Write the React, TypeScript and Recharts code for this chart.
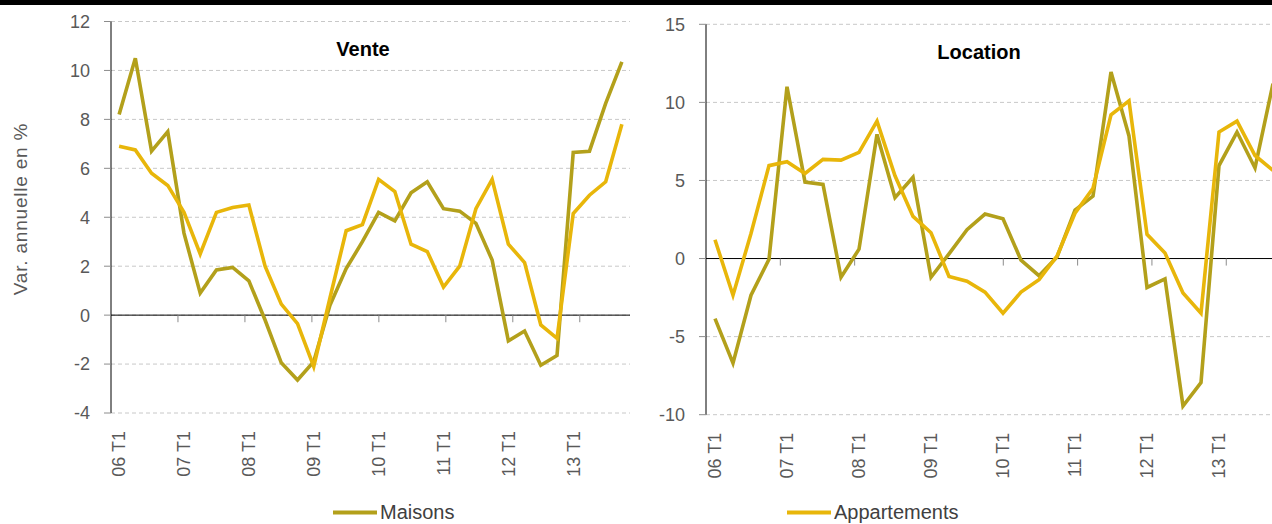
import { LineChart, Line, XAxis, YAxis, CartesianGrid, ReferenceLine } from 'recharts';

const FONT = '"Liberation Sans", Arial, sans-serif';

const years = ['06', '07', '08', '09', '10', '11', '12', '13'];
const quarters = years.flatMap((y) => ['T1', 'T2', 'T3', 'T4'].map((t) => `${y} ${t}`));

// Vente
const venteMaisons = [
  8.2, 10.5, 6.7, 7.5, 3.35, 0.9, 1.85, 1.95, 1.4, -0.2, -1.95, -2.65, -1.9, 0.4, 1.9, 3.0,
  4.2, 3.85, 5.0, 5.45, 4.35, 4.25, 3.75, 2.25, -1.05, -0.65, -2.05, -1.65, 6.65, 6.7, 8.65, 10.35,
];
const venteAppartements = [
  6.9, 6.75, 5.8, 5.3, 4.2, 2.5, 4.2, 4.4, 4.5, 2.0, 0.45, -0.35, -2.1, 0.7, 3.45, 3.7,
  5.55, 5.05, 2.9, 2.6, 1.15, 2.0, 4.35, 5.55, 2.9, 2.15, -0.4, -0.95, 4.15, 4.9, 5.45, 7.8,
];

// Location
const locationMaisons = [
  -3.85, -6.7, -2.35, -0.05, 11.0, 4.9, 4.75, -1.2, 0.6, 7.95, 3.9, 5.2, -1.2, 0.3, 1.85, 2.85,
  2.55, -0.1, -1.1, 0.1, 3.1, 4.0, 11.95, 7.85, -1.85, -1.3, -9.45, -7.95, 5.95, 8.1, 5.8, 11.2,
];
const locationAppartements = [
  1.2, -2.35, 1.6, 5.95, 6.2, 5.45, 6.35, 6.3, 6.8, 8.8, 5.3, 2.7, 1.65, -1.15, -1.45, -2.15,
  -3.5, -2.15, -1.35, 0.15, 2.9, 4.5, 9.2, 10.1, 1.55, 0.35, -2.2, -3.5, 8.1, 8.8, 6.6, 5.65,
];

const venteTicks = [-4, -2, 0, 2, 4, 6, 8, 10, 12];
const locationTicks = [-10, -5, 0, 5, 10, 15];
const yearBoundaries = [4, 8, 12, 16, 20, 24, 28, 32];

const series = [
  { key: 'maisons', name: 'Maisons', color: '#b3a01b' },
  { key: 'appartements', name: 'Appartements', color: '#e8b60a' },
];

const venteData = quarters.map((q, i) => ({ q, maisons: venteMaisons[i], appartements: venteAppartements[i] }));
const locationData = quarters.map((q, i) => ({ q, maisons: locationMaisons[i], appartements: locationAppartements[i] }));

function CategoryTick({ x, y, payload }: any) {
  return (
    <text
      x={x}
      y={y}
      dy="0.35em"
      textAnchor="end"
      transform={`rotate(-90, ${x}, ${y})`}
      fill="#595959"
      fontSize={18}
      fontFamily={FONT}
    >
      {payload.value}
    </text>
  );
}

type PanelProps = {
  data: { q: string; maisons: number; appartements: number }[];
  ticks: number[];
  width: number;
  yAxisWidth: number;
  top: number;
  bottom: number;
  markDepth: number;
};

function Panel({ data, ticks, width, yAxisWidth, top, bottom, markDepth }: PanelProps) {
  return (
    <LineChart
      width={width}
      height={524}
      data={data}
      margin={{ top, right: 10, bottom, left: 0 }}
      style={{ fontFamily: FONT }}
    >
      <CartesianGrid vertical={false} stroke="#c8c8c8" strokeDasharray="4 3" />
      <XAxis
        dataKey="q"
        scale="band"
        interval={3}
        axisLine={false}
        tickLine={false}
        tickSize={0}
        tickMargin={18}
        height={80}
        tick={<CategoryTick />}
      />
      <XAxis xAxisId="n" type="number" domain={[0, 32]} hide />
      <YAxis
        type="number"
        domain={[ticks[0], ticks[ticks.length - 1]]}
        ticks={ticks}
        interval={0}
        width={yAxisWidth}
        axisLine={{ stroke: '#000', strokeWidth: 1 }}
        tickLine={{ stroke: '#8c8c8c' }}
        tickSize={7}
        tickMargin={14}
        tick={{ fill: '#595959', fontSize: 18 }}
      />
      <ReferenceLine y={0} stroke="#000" strokeWidth={1} />
      {yearBoundaries.map((b) => (
        <ReferenceLine
          key={b}
          xAxisId="n"
          segment={[{ x: b, y: 0 }, { x: b, y: -markDepth }]}
          stroke="#8c8c8c"
        />
      ))}
      {series.map((s) => (
        <Line
          key={s.key}
          type="linear"
          dataKey={s.key}
          name={s.name}
          stroke={s.color}
          strokeWidth={3.6}
          dot={false}
          activeDot={false}
          isAnimationActive={false}
        />
      ))}
    </LineChart>
  );
}

export default function App() {
  return (
    <div
      style={{
        position: 'fixed',
        left: 0,
        top: 0,
        width: 1272,
        height: 524,
        overflow: 'hidden',
        background: '#fff',
        fontFamily: FONT,
      }}
    >
      <div style={{ position: 'absolute', left: 0, top: 0 }}>
        <Panel data={venteData} ticks={venteTicks} width={640} yAxisWidth={111} top={21.5} bottom={31} markDepth={0.29} />
      </div>
      <div style={{ position: 'absolute', left: 640, top: 0 }}>
        <Panel data={locationData} ticks={locationTicks} width={652} yAxisWidth={66} top={24.3} bottom={29.3} markDepth={0.45} />
      </div>
      <div style={{ position: 'absolute', left: 0, top: 0, width: 1272, height: 5, background: '#000' }} />
      <svg
        width={1272}
        height={524}
        style={{ position: 'absolute', left: 0, top: 0, pointerEvents: 'none' }}
        fontFamily={FONT}
      >
        <text x={363} y={56} textAnchor="middle" fontSize={20} fontWeight="bold" fill="#000">
          Vente
        </text>
        <text x={979} y={59} textAnchor="middle" fontSize={20} fontWeight="bold" fill="#000">
          Location
        </text>
        <text
          x={20}
          y={209}
          dy="0.35em"
          textAnchor="middle"
          transform="rotate(-90, 20, 209)"
          fontSize={19}
          letterSpacing={0.8}
          fill="#595959"
        >
          Var. annuelle en %
        </text>
        {series.map((s, i) => {
          const lx = i === 0 ? 333 : 787;
          return (
            <g key={s.key}>
              <line x1={lx} x2={lx + 44} y1={512.5} y2={512.5} stroke={s.color} strokeWidth={4} />
              <text x={lx + 47} y={519} fontSize={20} fill="#404040">
                {s.name}
              </text>
            </g>
          );
        })}
      </svg>
    </div>
  );
}
